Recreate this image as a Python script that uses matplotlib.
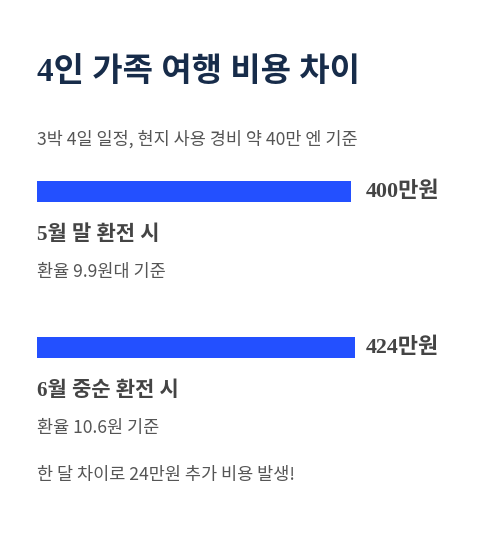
import numpy as np
import matplotlib
matplotlib.use("Agg")
import matplotlib.pyplot as plt
import matplotlib.transforms as mtransforms

# data
periods = ["5월 말 환전 시", "6월 중순 환전 시"]
rates = ["환율 9.9원대 기준", "환율 10.6원 기준"]
costs = np.array([400, 424])  # 만원
cost_labels = ["400만원", "424만원"]

title = "4인 가족 여행 비용 차이"
subtitle = "3박 4일 일정, 현지 사용 경비 약 40만 엔 기준"
footnote = "한 달 차이로 24만원 추가 비용 발생!"

W, H = 488, 553
DPI = 100
fig = plt.figure(figsize=(W / DPI, H / DPI), dpi=DPI, facecolor="white")

sans = ["Noto Sans CJK KR", "DejaVu Sans"]
serif_kr = ["Liberation Serif", "Noto Sans CJK KR"]
navy = "#172c4a"
dark = "#444444"
grey = "#555555"
blue = "#2350ff"


def px(v):
    return v * 72 / DPI


def ftext(x, y, s, **kw):
    # x, y in pixels from the top-left corner
    fig.text(x / W, 1 - y / H, s, va="center", **kw)


ftext(37, 73, title, family=serif_kr, fontsize=px(33), fontweight="bold", color=navy)
ftext(37, 139, subtitle, family=sans, fontsize=px(17.5), color=grey)

# bar axis: covers both bars, bars grow from the axis floor
bar_h = 0.135
x_floor = -1484
ax = fig.add_axes([37 / W, 1 - 358 / H, (355 - 37) / W, (358 - 181) / H])
pos = np.arange(len(costs))
ax.barh(pos, costs - x_floor, left=x_floor, height=bar_h, color=blue)
ax.set_xlim(x_floor, costs.max())
ax.set_ylim(1 + bar_h / 2, -bar_h / 2)
ax.axis("off")

trans = mtransforms.blended_transform_factory(fig.transFigure, ax.transData)
for p, lab in zip(pos, cost_labels):
    ax.text(439 / W, p, lab, transform=trans, ha="right", va="center",
            family=serif_kr, fontsize=px(22), fontweight="bold", color=dark)

period_y = [235, 391]
rate_y = [272, 428]
for py, ry, per, rt in zip(period_y, rate_y, periods, rates):
    ftext(37, py, per, family=serif_kr, fontsize=px(21), fontweight="bold", color=dark)
    ftext(37, ry, rt, family=sans, fontsize=px(17.5), color=grey)

ftext(37, 475, footnote, family=sans, fontsize=px(17.5), color=grey)

fig.savefig("out.png", dpi=DPI, facecolor="white")
